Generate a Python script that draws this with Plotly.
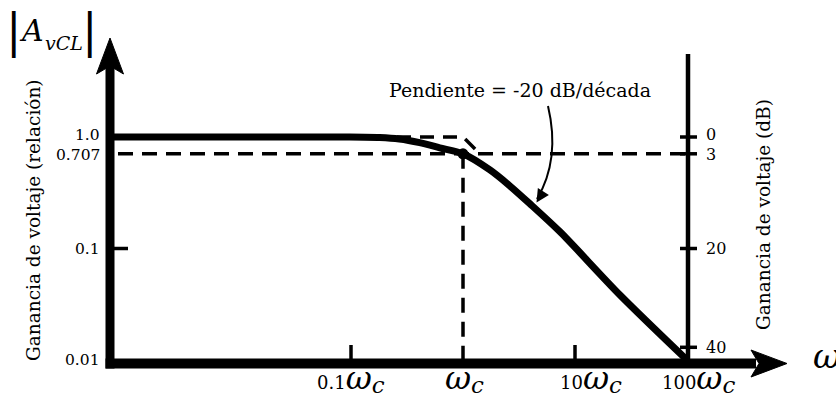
import math
import plotly.graph_objects as go

# ---------------- data ----------------
omega = [0.0007, 0.01, 0.09, 0.18, 0.27, 0.41, 0.62, 1.0, 1.74, 2.63, 3.97, 7.35, 25.2, 100]
gain = [1.0, 1.0, 1.0, 0.99, 0.96, 0.89, 0.80, 0.707, 0.506, 0.363, 0.251, 0.141, 0.0383, 0.01]

asym_omega = [0.1, 1.0, 1.3]
asym_gain = [1.0, 1.0, 0.77]

corner_omega = 1.0
corner_gain = 0.707

left_tick_vals = [1.0, 0.707, 0.1, 0.01]
left_tick_text = ["1.0", "0.707", "0.1", "0.01"]

right_tick_vals = [1.0, 0.707, 0.1, 0.013]
right_tick_text = ["0", "3", "20", "40"]

x_tick_vals = [0.1, 1, 10, 100]
x_tick_text = ["0.1", "", "10", "100"]

# ---------------- layout geometry ----------------
W, H = 836, 397
L, R, T, B = 110, 787, 38, 364
PW, PH = R - L, B - T
WC_PX, XDEC = 463, 112.0
Y1_PX, YDEC = 137, 111.5
x_range = [(L - WC_PX) / XDEC, (R - WC_PX) / XDEC]
y_range = [-(B - Y1_PX) / YDEC, (Y1_PX - T) / YDEC]


def px(p):
    return (p - L) / PW


def py(p):
    return (B - p) / PH


def xv(p):
    return 10 ** ((p - WC_PX) / XDEC)


def yv(p):
    return 10 ** ((Y1_PX - p) / YDEC)


x_left = xv(118)
x_right_axis = xv(688)
y_bottom = 10 ** y_range[0]
y_right_top = yv(54)

FONT = "DejaVu Serif"
BLACK = "black"

fig = go.Figure()


def seg(x, y, width, dash=None):
    line = dict(color=BLACK, width=width)
    if dash:
        line["dash"] = dash
    fig.add_trace(go.Scatter(x=x, y=y, mode="lines", line=line,
                             hoverinfo="skip", showlegend=False))


# dashed asymptote
seg(asym_omega, asym_gain, 3.5, "14px,9px")
# dashed -3 dB line
seg([x_left, x_right_axis], [corner_gain, corner_gain], 3.5, "15px,9px")
# dashed vertical at wc
seg([corner_omega, corner_omega], [corner_gain, y_bottom], 3.5, "15px,9px")
# right axis
seg([x_right_axis, x_right_axis], [y_bottom, y_right_top], 4.5)
# response curve
fig.add_trace(go.Scatter(x=omega, y=gain, mode="lines",
                         line=dict(color=BLACK, width=7, shape="spline", smoothing=0.8),
                         hoverinfo="skip", showlegend=False))
# corner dot
fig.add_trace(go.Scatter(x=[corner_omega], y=[corner_gain], mode="markers",
                         marker=dict(color=BLACK, size=11),
                         hoverinfo="skip", showlegend=False))
# right axis ticks
for v in right_tick_vals:
    seg([xv(680), xv(697)], [v, v], 3.5)
# left tick at 0.1
seg([xv(112), xv(128)], [0.1, 0.1], 3.5)
# x ticks at 0.1 and 10
for v in [0.1, 10]:
    seg([v, v], [y_bottom, yv(345)], 3.5)

shapes = []
# main axes
shapes.append(dict(type="line", xref="paper", yref="paper", x0=px(110), x1=px(110),
                   y0=py(368.5), y1=py(66), line=dict(color=BLACK, width=9)))
shapes.append(dict(type="line", xref="paper", yref="paper", x0=px(105.5), x1=px(756),
                   y0=py(363.5), y1=py(363.5), line=dict(color=BLACK, width=10)))


def path(pts):
    return "M " + " L ".join(f"{px(a):.5f},{py(b):.5f}" for a, b in pts) + " Z"


# arrowheads
shapes.append(dict(type="path", xref="paper", yref="paper",
                   path=path([(110, 38), (96.5, 74), (110, 66), (123.5, 74)]),
                   fillcolor=BLACK, line=dict(color=BLACK, width=1)))
shapes.append(dict(type="path", xref="paper", yref="paper",
                   path=path([(787, 363.5), (751, 350), (759, 363.5), (751, 377)]),
                   fillcolor=BLACK, line=dict(color=BLACK, width=1)))
# curved pointer
shapes.append(dict(type="path", xref="paper", yref="paper",
                   path=(f"M {px(548):.5f},{py(106):.5f} C {px(556):.5f},{py(140):.5f} "
                         f"{px(553):.5f},{py(172):.5f} {px(537):.5f},{py(199):.5f}"),
                   line=dict(color=BLACK, width=2)))

ann = []


def text(x, y, t, size, xanchor="center", yanchor="middle", angle=0, xref="paper", yref="paper",
         yshift=0):
    ann.append(dict(xref=xref, yref=yref, x=x, y=y, text=t, xanchor=xanchor, yanchor=yanchor,
                    textangle=angle, showarrow=False, borderpad=0, yshift=yshift,
                    font=dict(family=FONT, size=size, color=BLACK)))


ann.append(dict(xref="paper", yref="paper", x=px(536.5), y=py(202.5), ax=5, ay=-8,
                showarrow=True, arrowhead=2, arrowsize=1.3, arrowwidth=2, arrowcolor=BLACK, text=""))
text(px(520), py(90), "Pendiente = -20 dB/década", 19)

# left tick labels
left_shift = [2, -1, 0, 0]
for v, t, s in zip(left_tick_vals, left_tick_text, left_shift):
    text(px(101), math.log10(v), t, 15.5, xanchor="right", yref="y", yshift=s)
# right tick labels
right_shift = [3, -1, 0, 0]
for v, t, s in zip(right_tick_vals, right_tick_text, right_shift):
    text(px(705), math.log10(v), t, 16, xanchor="left", yref="y", yshift=s)
# x tick labels
x_label_centers = [351, 464, 591, 698]
for v, t, c in zip(x_tick_vals, x_tick_text, x_label_centers):
    txt = (t + "<span style='font-size:32px'><i>ω</i></span>"
           "<sub><span style='font-size:23px'><i>c</i></span></sub>")
    text(px(c), py(378), txt, 18)

# axis titles
text(px(33), py(220), "Ganancia de voltaje (relación)", 18.5, angle=-90)
text(px(763), py(215), "Ganancia de voltaje (dB)", 18.5, angle=-90)

# |A_vCL|
text(px(31), py(31), "<i>A</i>", 30)
text(px(64), py(43), "<i>vCL</i>", 19)
for xx in (14, 90):
    text(px(xx), py(31), "|", 46)
# omega at x-axis end
text(px(812), py(356), "<i>ω</i>", 34, xanchor="left")

fig.update_layout(
    width=W, height=H,
    margin=dict(l=L, r=W - R, t=T, b=H - B, pad=0),
    paper_bgcolor="white", plot_bgcolor="white",
    xaxis=dict(type="log", range=x_range, showgrid=False, zeroline=False, showline=False,
               showticklabels=False, ticks=""),
    yaxis=dict(type="log", range=y_range, showgrid=False, zeroline=False, showline=False,
               showticklabels=False, ticks=""),
    shapes=shapes, annotations=ann, showlegend=False,
)

fig.write_html("out.html", config={"displayModeBar": False},
               post_script="document.body.style.margin='0px';")
